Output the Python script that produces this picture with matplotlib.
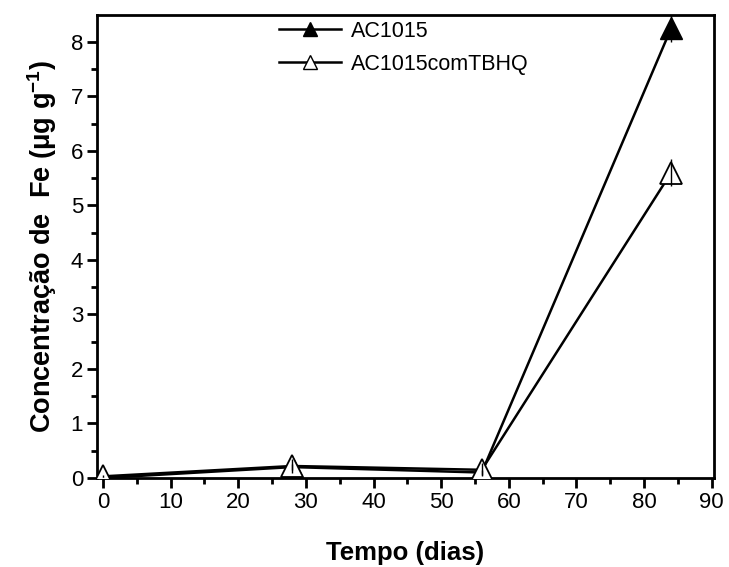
import matplotlib
matplotlib.use("Agg")
import matplotlib.pyplot as plt
from matplotlib.lines import Line2D

days = [0, 28, 56, 84]
ac1015 = [0.0, 0.20, 0.10, 8.25]
ac1015_err = [0.02, 0.05, 0.05, 0.25]
tbhq = [0.03, 0.22, 0.15, 5.60]
tbhq_err = [0.02, 0.12, 0.12, 0.25]
xticks = [0, 10, 20, 30, 40, 50, 60, 70, 80, 90]
yticks = [0, 1, 2, 3, 4, 5, 6, 7, 8]

plt.rcParams['font.family'] = ['Liberation Sans', 'DejaVu Sans']
plt.rcParams['mathtext.fontset'] = 'custom'
plt.rcParams['mathtext.rm'] = 'Liberation Sans'
plt.rcParams['mathtext.bf'] = 'Liberation Sans:bold'

fig = plt.figure(figsize=(7.29, 5.67), dpi=100)
ax = fig.add_axes([0.133, 0.157, 0.846, 0.817])

ax.plot(days, ac1015, color='black', lw=1.8, marker='^', ms=16,
        mfc='black', mec='black', zorder=3)
ax.plot(days, tbhq, color='black', lw=1.8, marker='^', ms=16,
        mfc='white', mec='black', mew=1.3, zorder=4)
ax.errorbar(days, ac1015, yerr=ac1015_err, fmt='none', ecolor='black',
            elinewidth=1.0, capsize=0, zorder=5)
ax.errorbar(days, tbhq, yerr=tbhq_err, fmt='none', ecolor='black',
            elinewidth=1.0, capsize=0, zorder=5)

ax.set_xlim(-0.9, 90.3)
ax.set_ylim(0, 8.5)
ax.set_xticks(xticks)
ax.set_yticks(yticks)
ax.set_xticks([5, 15, 25, 35, 45, 55, 65, 75, 85], minor=True)
ax.set_yticks([0.5, 1.5, 2.5, 3.5, 4.5, 5.5, 6.5, 7.5], minor=True)
ax.tick_params(which='major', direction='out', length=7, width=2, labelsize=16, pad=3)
ax.tick_params(which='minor', direction='out', length=4, width=2)
for s in ax.spines.values():
    s.set_linewidth(2)

ax.set_xlabel('Tempo (dias)', fontsize=18.5, fontweight='bold', labelpad=20)
ax.set_ylabel('Concentração de  Fe (μg g$^{\\mathbf{-1}}$)', fontsize=19.5,
              fontweight='bold', labelpad=8)

handles = [
    Line2D([], [], color='black', lw=1.8, marker='^', ms=10, mfc='black', mec='black'),
    Line2D([], [], color='black', lw=1.8, marker='^', ms=10, mfc='white', mec='black', mew=1.0),
]
ax.legend(handles, ['AC1015', 'AC1015comTBHQ'], loc='upper left',
          bbox_to_anchor=(0.277, 1.01), frameon=False, borderpad=0,
          fontsize=15.5, handlelength=2.9, handletextpad=0.45, labelspacing=0.55)

fig.savefig('out.png', dpi=100)
